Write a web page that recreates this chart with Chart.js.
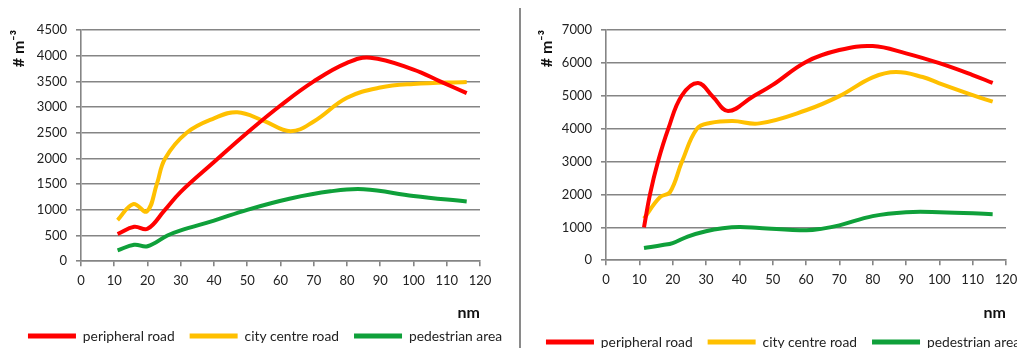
<!DOCTYPE html>
<html>
<head>
<meta charset="utf-8">
<script src="https://cdn.jsdelivr.net/npm/chart.js@4"></script>
<style>
  html, body { margin: 0; padding: 0; background: #fff; overflow: hidden; }
  #wrap { position: relative; width: 1017px; height: 348px; overflow: hidden; }
  #left { position: absolute; left: 0; top: 0; }
  #right { position: absolute; left: 521px; top: 0; }
  #sep { position: absolute; left: 519px; top: 8px; width: 2px; height: 340px; background: #8a8a8a; }
</style>
</head>
<body>
<div id="wrap">
  <canvas id="left" width="530" height="348"></canvas>
  <div id="sep"></div>
  <canvas id="right" width="524" height="348"></canvas>
</div>
<script>
// left panel: readings from the picture
const peripheralXL = [11, 16, 20, 25, 30, 40, 50, 60, 70, 80, 87, 100, 108, 116];
const peripheralYL = [530, 670, 630, 980, 1350, 1930, 2500, 3030, 3500, 3860, 3960, 3730, 3500, 3270];
const cityXL = [11, 15.7, 19.8, 22.8, 25.3, 31.8, 40, 47, 55, 63, 70, 80, 90, 100, 116];
const cityYL = [800, 1110, 970, 1500, 2000, 2500, 2780, 2900, 2730, 2530, 2720, 3180, 3380, 3450, 3490];
const pedestrianXL = [11, 16, 20, 26, 30, 40, 50, 63, 75, 85, 100, 116];
const pedestrianYL = [210, 320, 290, 500, 600, 790, 1000, 1220, 1360, 1400, 1270, 1160];

// right panel
const peripheralXR = [11.4, 13.2, 15.6, 18.7, 22.7, 27.6, 32, 36.6, 44, 50, 60, 70, 80, 90, 100, 110, 116];
const peripheralYR = [1000, 2000, 3000, 4000, 5000, 5390, 4980, 4540, 4970, 5330, 6030, 6390, 6510, 6290, 5990, 5630, 5390];
const cityXR = [11.4, 16.2, 19.2, 22.8, 27.3, 31.2, 38, 46, 60, 70, 80, 87, 95, 100, 110, 116];
const cityYR = [1270, 1920, 2070, 3000, 4000, 4170, 4230, 4160, 4560, 4990, 5560, 5720, 5570, 5380, 5020, 4820];
const pedestrianXR = [11.4, 17, 20, 24.5, 30, 35, 40, 46, 60, 65, 70, 80, 90, 100, 116];
const pedestrianYR = [370, 460, 520, 720, 880, 970, 1010, 980, 910, 960, 1060, 1340, 1460, 1460, 1400];

const seriesNames = ['peripheral road', 'city centre road', 'pedestrian area'];
const seriesColors = ['#ff0000', '#ffc000', '#0fa03a'];

const gridColor = '#858585';
const textColor = '#222';

const toPoints = (xs, ys) => xs.map((x, i) => ({ x: x, y: ys[i] }));

function makeDataset(i, xs, ys) {
    return {
        label: seriesNames[i],
        data: toPoints(xs, ys),
        borderColor: seriesColors[i],
        backgroundColor: seriesColors[i],
        borderWidth: 4,
        pointRadius: 0,
        tension: 0.4,
        fill: false
    };
}

// cfg: y range, axis width, right gap, bottom padding, x-axis height, title paddings
function makeChart(canvasId, datasets, cfg) {
    return new Chart(document.getElementById(canvasId), {
        type: 'line',
        data: { datasets: datasets },
        options: {
            responsive: false,
            animation: false,
            layout: { padding: { left: 0, right: 0, top: 30, bottom: cfg.padBottom } },
            plugins: {
                tooltip: { enabled: false },
                legend: {
                    position: 'bottom',
                    align: 'center',
                    labels: {
                        boxWidth: 48,
                        boxHeight: 5,
                        padding: 15,
                        color: textColor,
                        font: { family: 'Lato', size: 13.8 },
                        generateLabels: (chart) => Chart.defaults.plugins.legend.labels.generateLabels(chart)
                            .map(l => Object.assign(l, { lineWidth: 0 }))
                    }
                }
            },
            scales: {
                x: {
                    type: 'linear',
                    min: 0,
                    max: 120,
                    ticks: { stepSize: 10, padding: 7, color: textColor, font: { family: 'Lato', size: 13 } },
                    grid: { drawOnChartArea: false, drawTicks: true, tickLength: 5, color: gridColor, lineWidth: 1.6 },
                    border: { display: true, color: gridColor, width: 1.6 },
                    title: {
                        display: true, text: 'nm', align: 'end', color: '#111',
                        font: { family: 'Lato', size: 16, weight: 'bold' },
                        padding: { top: 0, bottom: cfg.xTitleBottom }
                    },
                    afterFit: (scale) => {
                        scale.height = cfg.xHeight;
                        scale.paddingLeft = 0;
                        scale.paddingRight = cfg.rightGap;
                    }
                },
                y: {
                    min: 0,
                    max: cfg.yMax,
                    ticks: {
                        stepSize: cfg.yStep, padding: 9, color: textColor,
                        font: { family: 'Lato', size: 13 },
                        callback: (v) => String(v)
                    },
                    grid: { color: gridColor, lineWidth: 1.6, tickLength: 5 },
                    border: { display: true, color: gridColor, width: 1.6 },
                    title: {
                        display: true, text: '# m\u207B\u00B3', align: 'end', color: '#111',
                        font: { family: 'Lato', size: 16, weight: 'bold' },
                        padding: { top: cfg.yTitlePad, bottom: 0 }
                    },
                    afterFit: (scale) => {
                        scale.width = cfg.yWidth;
                        scale.paddingTop = 0;
                        scale.paddingBottom = 0;
                    }
                }
            }
        }
    });
}

makeChart('left', [
    makeDataset(0, peripheralXL, peripheralYL),
    makeDataset(1, cityXL, cityYL),
    makeDataset(2, pedestrianXL, pedestrianYL)
], { yMax: 4500, yStep: 500, yWidth: 81, rightGap: 50, padBottom: -5, xHeight: 53, xTitleBottom: -8, yTitlePad: 9 });

makeChart('right', [
    makeDataset(0, peripheralXR, peripheralYR),
    makeDataset(1, cityXR, cityYR),
    makeDataset(2, pedestrianXR, pedestrianYR)
], { yMax: 7000, yStep: 1000, yWidth: 85, rightGap: 39, padBottom: -11, xHeight: 60, xTitleBottom: -2, yTitlePad: 16 });
</script>
</body>
</html>
